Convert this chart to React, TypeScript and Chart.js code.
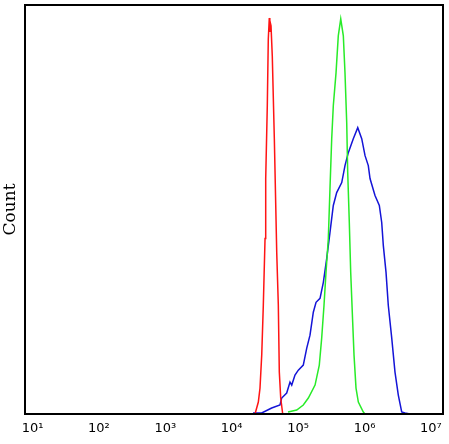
import React, { useEffect, useRef } from "react";
import { Chart, registerables } from "chart.js";

Chart.register(...registerables);

// x values are in decades (log10 of fluorescence intensity)
const xTickValues = [1, 2, 3, 4, 5, 6, 7];
const xTickLabels = ["10¹", "10²", "10³", "10⁴", "10⁵", "10⁶", "10⁷"];

const redX = [4.351, 4.401, 4.426, 4.452, 4.476, 4.502, 4.512, 4.536, 4.551, 4.566, 4.574, 4.582, 4.592, 4.611, 4.642, 4.678, 4.702, 4.717, 4.738, 4.768];
const redY = [0, 12, 26, 59, 109, 176, 236, 309, 376, 397, 383, 392, 389, 359, 276, 162, 109, 42, 16, 0];

const greenX = [4.848, 4.979, 5.078, 5.154, 5.255, 5.319, 5.355, 5.39, 5.42, 5.455, 5.48, 5.506, 5.53, 5.571, 5.605, 5.642, 5.681, 5.706, 5.732, 5.747, 5.771, 5.792, 5.822, 5.842, 5.872, 5.907, 5.982, 6.008];
const greenY = [2, 4, 9, 16, 29, 49, 76, 109, 142, 176, 226, 276, 309, 342, 379, 396, 379, 342, 292, 242, 192, 142, 92, 59, 26, 12, 2, 0];

const blueX = [4.321, 4.452, 4.602, 4.727, 4.753, 4.828, 4.878, 4.904, 4.953, 5.003, 5.078, 5.13, 5.179, 5.229, 5.27, 5.33, 5.38, 5.431, 5.48, 5.53, 5.581, 5.657, 5.706, 5.756, 5.831, 5.898, 5.958, 6.008, 6.057, 6.083, 6.158, 6.223, 6.259, 6.283, 6.324, 6.358, 6.41, 6.459, 6.509, 6.56, 6.61, 6.685];
const blueY = [1, 1, 6, 9, 16, 21, 32, 29, 39, 44, 49, 66, 79, 102, 112, 116, 132, 156, 182, 209, 222, 232, 249, 262, 276, 287, 276, 259, 249, 236, 219, 209, 192, 169, 142, 109, 76, 42, 19, 2, 1, 0];

const toPoints = (xs: number[], ys: number[]) => xs.map((x, i) => ({ x, y: ys[i] }));

const boxPlugin = {
  id: "plotBox",
  afterDraw(chart: any) {
    const { ctx, chartArea: a } = chart;
    ctx.save();
    ctx.strokeStyle = "#000";
    ctx.lineWidth = 2;
    ctx.strokeRect(a.left, a.top, a.right - a.left, a.bottom - a.top);
    ctx.restore();
  },
};

export default function App() {
  const ref = useRef<HTMLCanvasElement | null>(null);

  useEffect(() => {
    if (!ref.current) return;
    const line = (label: string, xs: number[], ys: number[], color: string) => ({
      label,
      data: toPoints(xs, ys),
      borderColor: color,
      backgroundColor: color,
      borderWidth: 1.5,
      pointRadius: 0,
      tension: 0,
      fill: false,
    });
    const chart = new Chart(ref.current, {
      type: "line",
      data: {
        datasets: [
          line("Isotype", redX, redY, "rgb(255,20,20)"),
          line("Unstained", greenX, greenY, "rgb(40,235,40)"),
          line("Antibody", blueX, blueY, "rgb(20,20,215)"),
        ],
      },
      options: {
        animation: false,
        responsive: false,
        layout: { padding: { top: 5, right: 6, left: 0, bottom: 0 } },
        plugins: { legend: { display: false }, tooltip: { enabled: false } },
        scales: {
          x: {
            type: "linear",
            min: 0.887,
            max: 7.182,
            grid: { display: false, drawTicks: false },
            border: { display: false },
            afterBuildTicks: (scale: any) => {
              scale.ticks = xTickValues.map((v) => ({ value: v }));
            },
            afterFit: (scale: any) => {
              scale.height = 30;
            },
            ticks: {
              autoSkip: false,
              maxRotation: 0,
              padding: 7,
              color: "#000",
              font: { family: "'DejaVu Sans', Verdana, sans-serif", size: 13 },
              callback: (v: any) => xTickLabels[xTickValues.indexOf(Number(v))] ?? "",
            },
          },
          y: {
            type: "linear",
            min: 0,
            max: 410,
            grid: { display: false, drawTicks: false },
            border: { display: false },
            ticks: { display: false },
            afterFit: (scale: any) => {
              scale.width = 25;
            },
            title: {
              display: true,
              text: "Count",
              color: "#000",
              padding: { top: 0, bottom: 0 },
              font: { family: "'DejaVu Serif', serif", size: 17 },
            },
          },
        },
      },
      plugins: [boxPlugin],
    });
    return () => chart.destroy();
  }, []);

  return (
    <div style={{ position: "absolute", left: 0, top: 0, width: 449, height: 444, background: "#fff" }}>
      <canvas ref={ref} width={449} height={444} />
    </div>
  );
}
